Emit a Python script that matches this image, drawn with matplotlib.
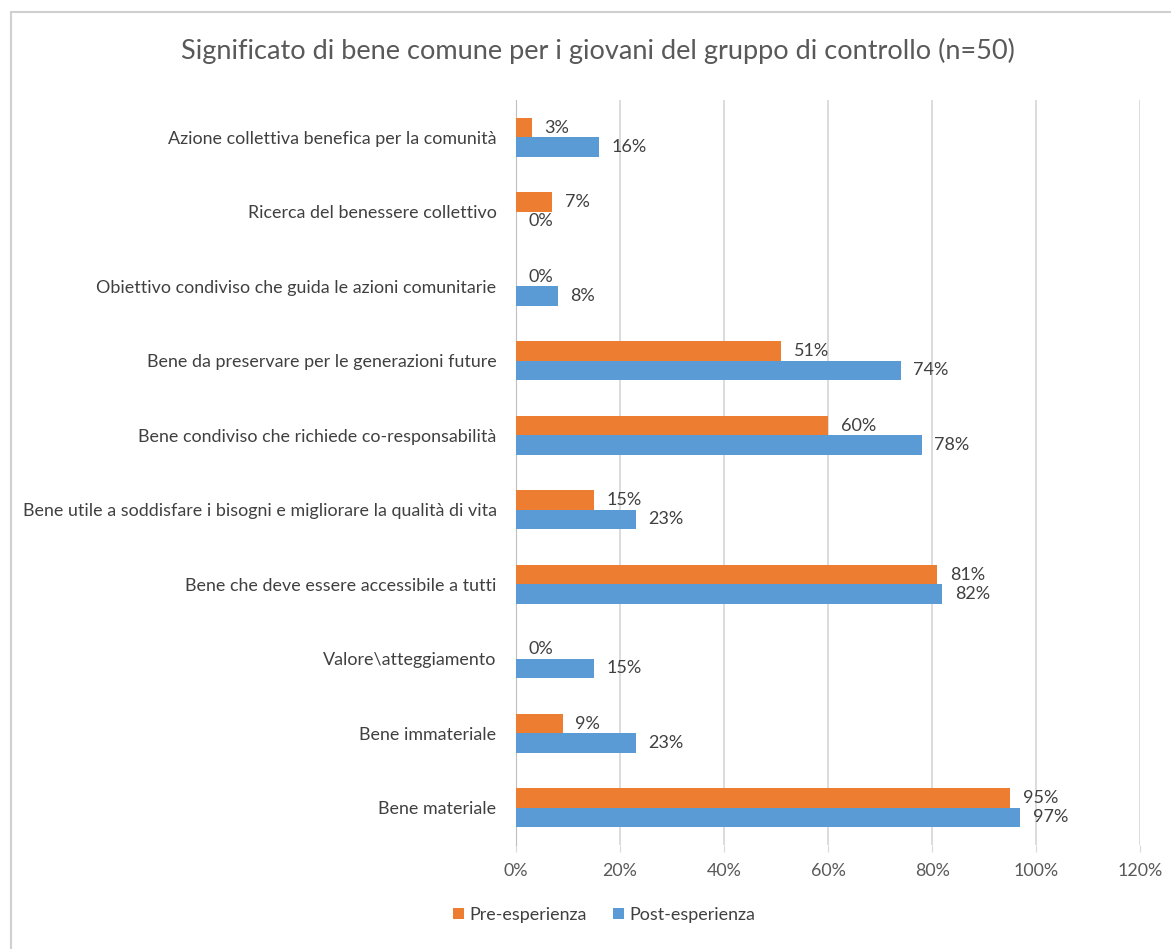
import matplotlib
matplotlib.use("Agg")
from matplotlib import pyplot as plt
from matplotlib.patches import Rectangle
import numpy as np

categories = [
    "Azione collettiva benefica per la comunità",
    "Ricerca del benessere collettivo",
    "Obiettivo condiviso che guida le azioni comunitarie",
    "Bene da preservare per le generazioni future",
    "Bene condiviso che richiede co-responsabilità",
    "Bene utile a soddisfare i bisogni e migliorare la qualità di vita",
    "Bene che deve essere accessibile a tutti",
    "Valore\\atteggiamento",
    "Bene immateriale",
    "Bene materiale",
]
pre = [3, 7, 0, 51, 60, 15, 81, 0, 9, 95]
post = [16, 0, 8, 74, 78, 23, 82, 15, 23, 97]
xticks = [0, 20, 40, 60, 80, 100, 120]

plt.rcParams["font.family"] = ["Lato", "DejaVu Sans"]
text_col = "#595959"

fig = plt.figure(figsize=(11.71, 9.49), dpi=100)
fig.patches.append(Rectangle((0.009, -0.01), 1.1, 0.997, transform=fig.transFigure,
                             fill=False, edgecolor="#d0d0d0", linewidth=1.5))
ax = fig.add_axes([0.4407, 0.1096, 0.5329, 0.785])

y = np.arange(len(categories))
h = 0.26
bars_pre = ax.barh(y - h / 2, pre, height=h, color="#ed7d31", label="Pre-esperienza", zorder=3)
bars_post = ax.barh(y + h / 2, post, height=h, color="#5b9bd5", label="Post-esperienza", zorder=3)

for bars, vals in [(bars_pre, pre), (bars_post, post)]:
    for b, v in zip(bars, vals):
        ax.annotate(f"{v}%", (b.get_width(), b.get_y() + b.get_height() / 2),
                    xytext=(9, 0), textcoords="offset points", va="center", ha="left",
                    fontsize=13, color="#404040")

ax.set_ylim(len(categories) - 0.5, -0.5)
ax.set_xlim(0, 120)
ax.set_yticks(y)
ax.set_yticklabels(categories, fontsize=12.9, color="#404040")
ax.set_xticks(xticks)
ax.set_xticklabels([f"{t}%" for t in xticks], fontsize=12.9, color=text_col)
ax.tick_params(axis="y", length=0, pad=14)
ax.tick_params(axis="x", length=5, color="#d9d9d9", pad=8)
ax.grid(axis="x", color="#d9d9d9", linewidth=1.3, zorder=0)
for s in ["top", "right", "bottom"]:
    ax.spines[s].set_visible(False)
ax.spines["left"].set_color("#bfbfbf")

fig.suptitle("Significato di bene comune per i giovani del gruppo di controllo (n=50)",
             x=0.511, y=0.96, fontsize=19.5, color=text_col)
ax.legend(loc="center", bbox_to_anchor=(0.516, 0.036), bbox_transform=fig.transFigure,
          ncol=2, frameon=False, fontsize=12.9, handlelength=0.6, handleheight=0.6,
          columnspacing=1.5, handletextpad=0.3, labelcolor="#404040")

fig.savefig("out.png", dpi=100)
